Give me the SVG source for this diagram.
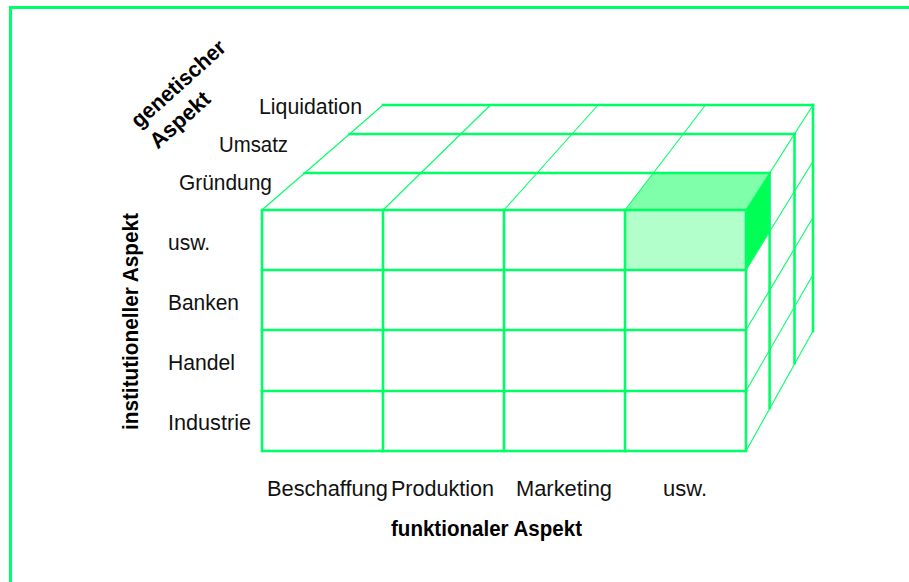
<svg xmlns="http://www.w3.org/2000/svg" width="909" height="582" viewBox="0 0 909 582">
<style>
.frame{fill:none;stroke:#00FF66;stroke-width:3}
.thick{fill:none;stroke:#00FF66;stroke-width:2.6;stroke-linecap:square}
.thin{fill:none;stroke:#00FF66;stroke-width:1.1}
.lbl{font-family:"Liberation Sans",Arial,sans-serif;font-size:22px;fill:#111}
.b{font-weight:bold;fill:#000}
</style>
<rect width="909" height="582" fill="#fff"/>
<path class="frame" d="M10.5 582 V7.5 H909"/>

<g id="highlight">
<rect x="625" y="210" width="121" height="60" fill="#B3FFCC"/>
<polygon points="625,210 653.4,173 769.6,173 746,210" fill="#80FFAA"/>
<polygon points="746,210 769.6,173 769.6,231 746,270" fill="#00FF55"/>
</g>

<g id="connectors">
<g class="thin">
<line x1="262" y1="210" x2="383" y2="105"/>
<line x1="383" y1="210" x2="490.5" y2="105"/>
<line x1="504" y1="210" x2="598" y2="105"/>
<line x1="625" y1="210" x2="705.5" y2="105"/>
<line x1="746" y1="210" x2="813" y2="105"/>
<line x1="746" y1="270" x2="813" y2="161.3"/>
<line x1="746" y1="330" x2="813" y2="217.5"/>
<line x1="746" y1="391" x2="813" y2="274.7"/>
<line x1="746" y1="451" x2="813" y2="331"/>
</g>
<g class="thick">
<line x1="304.6" y1="173" x2="769.6" y2="173"/>
<line x1="349.6" y1="134" x2="794.5" y2="134"/>
<line x1="383" y1="105" x2="813" y2="105"/>
<line x1="769.6" y1="173" x2="769.6" y2="408"/>
<line x1="794.5" y1="134" x2="794.5" y2="363"/>
<line x1="813" y1="105" x2="813" y2="331"/>
<rect x="262" y="210" width="484" height="241"/>
<line x1="383" y1="210" x2="383" y2="451"/>
<line x1="504" y1="210" x2="504" y2="451"/>
<line x1="625" y1="210" x2="625" y2="451"/>
<line x1="262" y1="270" x2="746" y2="270"/>
<line x1="262" y1="330" x2="746" y2="330"/>
<line x1="262" y1="391" x2="746" y2="391"/>
</g>
</g>

<g id="genetic-labels">
<text class="lbl" x="259" y="114" textLength="103" lengthAdjust="spacingAndGlyphs">Liquidation</text>
<text class="lbl" x="219" y="152" textLength="69" lengthAdjust="spacingAndGlyphs">Umsatz</text>
<text class="lbl" x="179" y="190" textLength="93" lengthAdjust="spacingAndGlyphs">Gründung</text>
</g>

<g id="institution-labels">
<text class="lbl" x="168" y="250" textLength="42" lengthAdjust="spacingAndGlyphs">usw.</text>
<text class="lbl" x="168" y="310" textLength="71" lengthAdjust="spacingAndGlyphs">Banken</text>
<text class="lbl" x="168" y="370" textLength="67" lengthAdjust="spacingAndGlyphs">Handel</text>
<text class="lbl" x="168" y="430" textLength="83" lengthAdjust="spacingAndGlyphs">Industrie</text>
</g>

<g id="function-labels">
<text class="lbl" x="267" y="496" textLength="121" lengthAdjust="spacingAndGlyphs">Beschaffung</text>
<text class="lbl" x="391" y="496" textLength="103" lengthAdjust="spacingAndGlyphs">Produktion</text>
<text class="lbl" x="516" y="496" textLength="96" lengthAdjust="spacingAndGlyphs">Marketing</text>
<text class="lbl" x="663" y="496" textLength="44" lengthAdjust="spacingAndGlyphs">usw.</text>
</g>

<g id="axis-functional">
<text class="lbl b" x="391" y="536" textLength="191" lengthAdjust="spacingAndGlyphs">funktionaler Aspekt</text>
</g>

<g id="axis-institutional">
<text class="lbl b" transform="translate(138,430) rotate(-90)" x="0" y="0" textLength="217" lengthAdjust="spacingAndGlyphs">institutioneller Aspekt</text>
</g>

<g id="axis-genetic" transform="translate(139,129) rotate(-42)">
<text class="lbl b" x="0" y="0" textLength="119" lengthAdjust="spacingAndGlyphs">genetischer</text>
<text class="lbl b" x="0" y="28" textLength="73" lengthAdjust="spacingAndGlyphs">Aspekt</text>
</g>
</svg>
